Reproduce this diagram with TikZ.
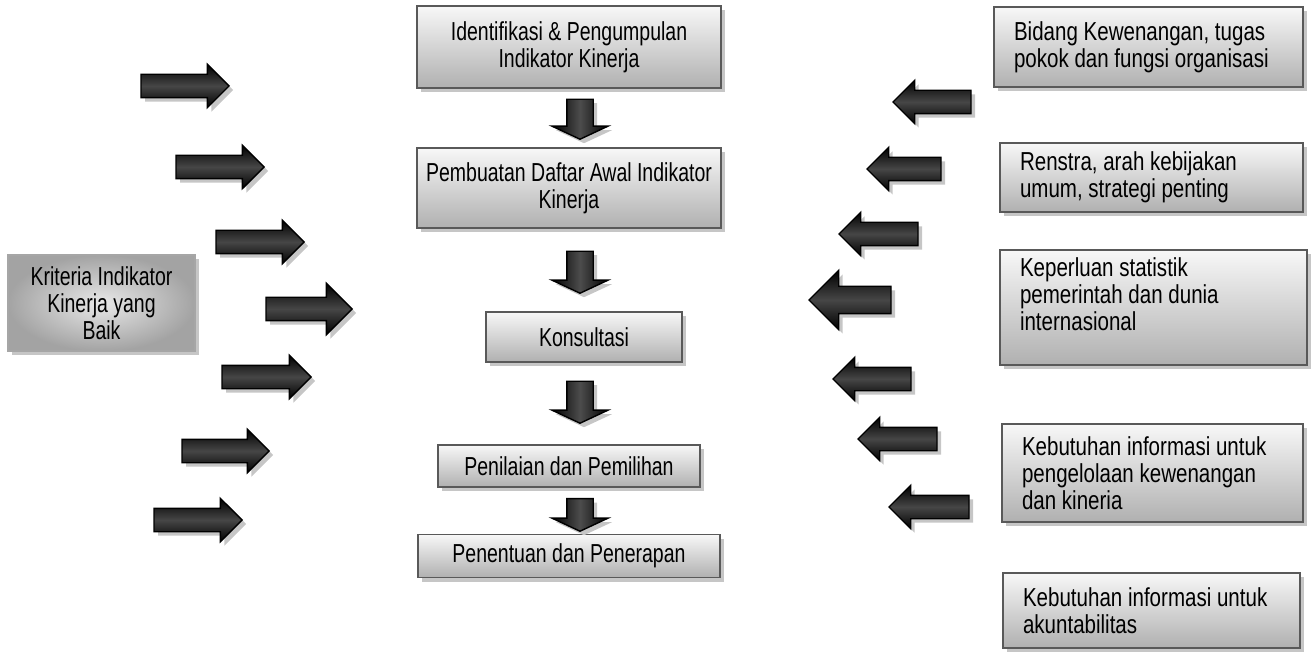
\documentclass[tikz,border=0pt]{standalone}
\usepackage{fontspec}
\setmainfont[FakeStretch=0.75]{Liberation Sans}
\newfontfamily\rfont[FakeStretch=0.79]{Liberation Sans}
\usetikzlibrary{shapes.arrows,shadows}
\tikzset{
  shadowed/.style={drop shadow={shadow xshift=4pt,shadow yshift=-4pt,fill=gray!45,opacity=1}},
  cbox/.style={shadowed, draw=gray!70!black, line width=1.3pt, top color=gray!6, bottom color=gray!62,
    font=\fontsize{26}{27}\selectfont, align=center, inner sep=0pt},
  rbox/.style={shadowed, draw=gray!70!black, line width=1.3pt, top color=gray!6, bottom color=gray!62,
    font=\rfont\fontsize{26}{27}\selectfont, align=flush left, inner xsep=20pt, inner ysep=0pt},
  lbox/.style={shadowed, draw=gray!70, line width=1.3pt, inner color=gray!18, outer color=gray!72,
    font=\fontsize{26}{27}\selectfont, align=center, inner sep=0pt},
  harrow/.style={shadowed, single arrow, draw=black, line width=1.4pt,
    top color=black, bottom color=black, middle color=gray!55!black,
    inner sep=11pt, minimum width=0pt, single arrow head extend=10pt, single arrow tip angle=90,
    anchor=tip},
  rarrow/.style={harrow, shape border rotate=180},
  darrow/.style={shadowed, single arrow, draw=black, line width=1.4pt, shape border rotate=270,
    left color=black, right color=black, middle color=gray!60!black,
    inner sep=12.5pt, minimum width=0pt, single arrow head extend=15pt, single arrow tip angle=130,
    anchor=tip},
}
\begin{document}
\begin{tikzpicture}[x=1pt,y=-1pt]
\useasboundingbox (0,0) rectangle (1312,652);

% centre column
\node[cbox, minimum width=304pt, minimum height=82pt] (b1) at (569,47) {Identifikasi \& Pengumpulan\\Indikator Kinerja};
\node[cbox, minimum width=304pt, minimum height=80pt] (b2) at (569,188) {Pembuatan Daftar Awal Indikator\\Kinerja};
\node[cbox, minimum width=196pt, minimum height=50pt] (b3) at (584,337) {Konsultasi};
\node[cbox, minimum width=262pt, minimum height=42pt] (b4) at (569,466) {Penilaian dan Pemilihan};
\node[cbox, minimum width=302pt, minimum height=43pt] (b5) at (569,556) {Penentuan dan Penerapan};

\node[darrow, minimum height=40pt] (d1) at (580,140) {};
\node[darrow, minimum height=42pt] (d2) at (580,294) {};
\node[darrow, minimum height=42pt] (d3) at (580,424) {};
\node[darrow, minimum height=32pt] (d4) at (580,532) {};

% left side
\node[lbox, minimum width=187pt, minimum height=96pt] (lb) at (101.5,303) {Kriteria Indikator\\Kinerja yang\\Baik};

\node[harrow, minimum height=88pt] (l1) at (230,86) {};
\node[harrow, minimum height=88pt] (l2) at (265,167) {};
\node[harrow, minimum height=88pt] (l3) at (305,242) {};
\node[harrow, minimum height=86pt, single arrow head extend=14pt] (l4) at (353,309) {};
\node[harrow, minimum height=89pt] (l5) at (312,377) {};
\node[harrow, minimum height=87pt] (l6) at (270,451) {};
\node[harrow, minimum height=88pt] (l7) at (243,520) {};

% right side
\node[rbox, text width=269pt, minimum height=80pt] (r1) at (1148.5,47) {Bidang Kewenangan, tugas\\pokok dan fungsi organisasi};
\node[rbox, text width=263pt, minimum height=69pt] (r2) at (1151.5,177.5) {Renstra, arah kebijakan\\umum, strategi penting};
\node[rbox, text width=267pt, minimum height=115pt] (r3) at (1153.5,307.5) {Keperluan statistik\\pemerintah dan dunia\\internasional\\\mbox{}};
\node[rbox, text width=261pt, minimum height=98pt] (r4) at (1152.5,473) {Kebutuhan informasi untuk\\pengelolaan kewenangan\\dan kineria};
\node[rbox, text width=257pt, minimum height=75pt] (r5) at (1151.5,610.5) {Kebutuhan informasi untuk\\akuntabilitas};

\node[rarrow, minimum height=78pt] (q1) at (892,102) {};
\node[rarrow, minimum height=74pt] (q2) at (866,169) {};
\node[rarrow, minimum height=79pt] (q3) at (838,234) {};
\node[rarrow, minimum height=82pt, inner sep=13pt, single arrow head extend=16pt] (q4) at (808,300) {};
\node[rarrow, minimum height=78pt] (q5) at (832,379) {};
\node[rarrow, minimum height=79pt] (q6) at (857,439) {};
\node[rarrow, minimum height=80pt] (q7) at (888,507) {};
\end{tikzpicture}
\end{document}
